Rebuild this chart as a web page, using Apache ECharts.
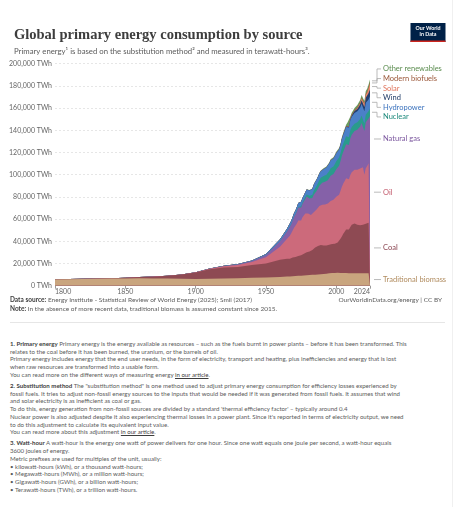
<!DOCTYPE html>
<html lang="en">
<head>
<meta charset="UTF-8">
<title>Global primary energy consumption by source</title>
<script src="https://cdn.jsdelivr.net/npm/echarts@6/dist/echarts.min.js"></script>
<style>
    html, body {
        margin: 0;
        padding: 0;
        background: #fff;
    }
    body {
        width: 458px;
        height: 507px;
        overflow: hidden;
        position: relative;
        font-family: Lato, "Noto Sans", sans-serif;
    }
    #chart {
        position: absolute;
        left: 0;
        top: 0;
        width: 458px;
        height: 320px;
    }
    .src {
        position: absolute;
        font-size: 6.5px;
        line-height: 8px;
        color: #5b5b5b;
        white-space: nowrap;
    }
    .src b { color: #3d3d3d; }
    #rule {
        position: absolute;
        left: 10px;
        width: 435px;
        top: 322px;
        height: 0;
        border-top: 1px solid #e6e6e6;
    }
    #edge {
        position: absolute;
        left: 452px;
        top: 0;
        width: 1px;
        height: 507px;
        background: #f0f0f0;
    }
    #notes {
        position: absolute;
        left: 10px;
        top: 340px;
        font-size: 6.1px;
        line-height: 7.7px;
        color: #5b5b5b;
        white-space: nowrap;
    }
    #notes p { margin: 0 0 3.5px 0; }
    #notes b { color: #3d3d3d; }
    #notes u { color: #3d3d3d; }
</style>
</head>
<body>
<div id="chart"></div>
<div class="src" style="left:10px;top:296px"><b>Data source:</b> Energy Institute - Statistical Review of World Energy (2025); Smil (2017)</div>
<div class="src" style="right:16px;top:296px">OurWorldinData.org/energy | CC BY</div>
<div class="src" style="left:10px;top:305px"><b>Note:</b> In the absence of more recent data, traditional biomass is assumed constant since 2015.</div>
<div id="rule"></div>
<div id="edge"></div>
<div id="notes">
<p><b>1. Primary energy</b> Primary energy is the energy available as resources – such as the fuels burnt in power plants – before it has been transformed. This<br>relates to the coal before it has been burned, the uranium, or the barrels of oil.<br>Primary energy includes energy that the end user needs, in the form of electricity, transport and heating, plus inefficiencies and energy that is lost<br>when raw resources are transformed into a usable form.<br>You can read more on the different ways of measuring energy <u>in our article</u>.</p>
<p><b>2. Substitution method</b> The "substitution method" is one method used to adjust primary energy consumption for efficiency losses experienced by<br>fossil fuels. It tries to adjust non-fossil energy sources to the inputs that would be needed if it was generated from fossil fuels. It assumes that wind<br>and solar electricity is as inefficient as coal or gas.<br>To do this, energy generation from non-fossil sources are divided by a standard 'thermal efficiency factor' – typically around 0.4<br>Nuclear power is also adjusted despite it also experiencing thermal losses in a power plant. Since it's reported in terms of electricity output, we need<br>to do this adjustment to calculate its equivalent input value.<br>You can read more about this adjustment <u>in our article</u>.</p>
<p><b>3. Watt-hour</b> A watt-hour is the energy one watt of power delivers for one hour. Since one watt equals one joule per second, a watt-hour equals<br>3600 joules of energy.<br>Metric prefixes are used for multiples of the unit, usually:<br>• kilowatt-hours (kWh), or a thousand watt-hours;<br>• Megawatt-hours (MWh), or a million watt-hours;<br>• Gigawatt-hours (GWh), or a billion watt-hours;<br>• Terawatt-hours (TWh), or a trillion watt-hours.</p>
</div>
<script>
    // years: Smil decadal until 1960, Energy Institute annual from 1965
    var years = [1800, 1810, 1820, 1830, 1840, 1850, 1860, 1870, 1880, 1890, 1900, 1910, 1920, 1930, 1940, 1950, 1960,
        1965, 1966, 1967, 1968, 1969, 1970, 1971, 1972, 1973, 1974,
        1975, 1976, 1977, 1978, 1979, 1980, 1981, 1982, 1983, 1984,
        1985, 1986, 1987, 1988, 1989, 1990, 1991, 1992, 1993, 1994,
        1995, 1996, 1997, 1998, 1999, 2000, 2001, 2002, 2003, 2004,
        2005, 2006, 2007, 2008, 2009, 2010, 2011, 2012, 2013, 2014,
        2015, 2016, 2017, 2018, 2019, 2020, 2021, 2022, 2023, 2024];

    var xTicks = [1800, 1850, 1900, 1950, 2000, 2024];

    // TWh, substitution method
    var biomass = [5556, 5830, 6110, 6250, 6390, 6530, 6670, 6530, 6390, 6250, 6110, 6250, 6530, 6810, 7080, 7500, 7920,
        8190, 8260, 8330, 8400, 8470, 8610, 8690, 8780, 8860, 8950,
        9030, 9120, 9200, 9290, 9370, 9440, 9550, 9650, 9760, 9860,
        9970, 10080, 10190, 10300, 10410, 10560, 10650, 10750, 10850, 10950,
        11110, 11220, 11330, 11440, 11550, 11670, 11630, 11590, 11550, 11510,
        11480, 11440, 11400, 11360, 11320, 11280, 11250, 11210, 11170, 11140,
        11111, 11111, 11111, 11111, 11111, 11111, 11111, 11111, 11111, 11111];

    var coal = [97, 128, 153, 264, 356, 569, 1061, 1642, 2542, 3856, 5728, 8656, 9833, 10125, 11586, 12603, 15442,
        16110, 16360, 16060, 16360, 16830, 17110, 17080, 17330, 17920, 18000,
        18310, 19080, 19640, 20000, 20860, 21110, 21280, 21670, 22390, 23450,
        24360, 24810, 25530, 26000, 26250, 25950, 25560, 25420, 25450, 25610,
        25830, 26220, 26280, 26000, 26220, 27080, 27220, 28280, 30690, 32920,
        35280, 37250, 39170, 39830, 39310, 41640, 43720, 44110, 44860, 44670,
        43720, 42890, 43280, 44030, 43780, 42110, 44700, 45060, 45640, 45860];

    var oil = [0, 0, 0, 0, 0, 0, 0, 6, 33, 89, 181, 383, 1111, 1722, 2694, 5444, 11800,
        17940, 19310, 20670, 22420, 24330, 26440, 27890, 29860, 32060, 31560,
        31420, 33360, 34470, 35670, 36110, 34580, 33420, 32440, 32310, 32860,
        32920, 33780, 34440, 35470, 36030, 36500, 36580, 37000, 36890, 37500,
        38170, 38940, 39860, 40080, 41000, 41390, 41670, 42110, 43060, 44780,
        45280, 45690, 46250, 45920, 45220, 46920, 47310, 47860, 48390, 48720,
        49670, 50420, 51110, 51530, 51720, 46640, 49940, 51720, 53610, 54560];

    var gas = [0, 0, 0, 0, 0, 0, 0, 0, 0, 0, 64, 180, 300, 600, 900, 2092, 4800,
        6500, 7030, 7560, 8220, 9000, 9860, 10500, 11060, 11560, 11720,
        11780, 12330, 12670, 13190, 13970, 14170, 14330, 14330, 14610, 15810,
        16420, 16610, 17500, 18330, 19170, 19750, 20220, 20390, 20810, 20920,
        21640, 22750, 22670, 23080, 23780, 24750, 25140, 26000, 26780, 27890,
        28670, 29440, 30560, 31500, 30830, 33030, 33810, 34610, 34970, 35250,
        36080, 36860, 37920, 39860, 40360, 39580, 41390, 40140, 40250, 41280];

    var nuclear = [0, 0, 0, 0, 0, 0, 0, 0, 0, 0, 0, 0, 0, 0, 0, 0, 0,
        70, 100, 120, 150, 180, 220, 310, 420, 560, 730,
        1000, 1160, 1400, 1660, 1740, 1980, 2350, 2560, 2900, 3490,
        4160, 4460, 4810, 5220, 5310, 5560, 5800, 5850, 6060, 6180,
        6480, 6700, 6640, 6800, 7070, 7170, 7320, 7410, 7210, 7490,
        7480, 7540, 7340, 7280, 7140, 7250, 6930, 6430, 6450, 6550,
        6600, 6670, 6690, 6820, 7030, 6750, 6970, 6630, 6750, 6900];

    var hydro = [0, 0, 0, 0, 0, 0, 0, 0, 0, 0, 30, 100, 180, 330, 540, 940, 1880,
        2570, 2720, 2790, 2920, 3080, 3250, 3380, 3530, 3610, 3940,
        4000, 4060, 4170, 4470, 4720, 4810, 4890, 5030, 5220, 5390,
        5530, 5610, 5690, 5860, 5860, 6000, 6170, 6190, 6500, 6580,
        6890, 7000, 7110, 7190, 7220, 7360, 7150, 7250, 7240, 7640,
        7860, 8120, 8210, 8560, 8600, 9030, 9160, 9530, 9790, 10030,
        9950, 10260, 10300, 10560, 10600, 10880, 10670, 10720, 10440, 10980];

    var wind = [0, 0, 0, 0, 0, 0, 0, 0, 0, 0, 0, 0, 0, 0, 0, 0, 0,
        0, 0, 0, 0, 0, 0, 0, 0, 0, 0,
        0, 0, 0, 0, 0, 0, 0, 0, 0, 0,
        0, 1, 2, 3, 5, 11, 13, 13, 16, 20,
        24, 27, 33, 44, 59, 87, 107, 143, 173, 230,
        281, 355, 455, 585, 733, 900, 1140, 1370, 1650, 1820,
        2130, 2440, 2870, 3200, 3570, 3990, 4600, 5200, 5740, 6130];

    var solar = [0, 0, 0, 0, 0, 0, 0, 0, 0, 0, 0, 0, 0, 0, 0, 0, 0,
        0, 0, 0, 0, 0, 0, 0, 0, 0, 0,
        0, 0, 0, 0, 0, 0, 0, 0, 0, 0,
        0, 0, 0, 0, 0, 0, 0, 0, 0, 0,
        1, 1, 1, 2, 2, 3, 4, 5, 6, 7,
        11, 15, 20, 33, 55, 90, 170, 260, 360, 500,
        660, 840, 1110, 1480, 1770, 2140, 2560, 3240, 4040, 5220];

    var biofuels = [0, 0, 0, 0, 0, 0, 0, 0, 0, 0, 0, 0, 0, 0, 0, 0, 0,
        0, 0, 0, 0, 0, 0, 0, 0, 0, 0,
        0, 0, 0, 0, 0, 25, 35, 50, 60, 70,
        80, 85, 90, 95, 100, 110, 115, 120, 120, 125,
        130, 135, 140, 140, 140, 135, 145, 165, 195, 225,
        260, 320, 400, 510, 560, 640, 650, 650, 700, 760,
        780, 800, 840, 920, 990, 930, 1000, 1090, 1200, 1270];

    var otherRenew = [0, 0, 0, 0, 0, 0, 0, 0, 0, 0, 0, 0, 0, 0, 0, 0, 0,
        60, 65, 70, 75, 80, 90, 100, 110, 120, 135,
        150, 160, 175, 190, 210, 230, 260, 290, 330, 380,
        420, 440, 470, 500, 560, 610, 650, 700, 730, 770,
        800, 830, 870, 900, 920, 940, 950, 1010, 1070, 1130,
        1170, 1220, 1300, 1360, 1440, 1560, 1640, 1750, 1840, 1940,
        2010, 2080, 2170, 2240, 2320, 2370, 2440, 2470, 2490, 2500];

    // bottom to top
    var sources = [
        {name: 'Traditional biomass', data: biomass, fill: '#C9A57E', text: '#B08B5E'},
        {name: 'Coal', data: coal, fill: '#8E4A53', text: '#8A4450'},
        {name: 'Oil', data: oil, fill: '#CC6A7B', text: '#C45C6E'},
        {name: 'Natural gas', data: gas, fill: '#8561A8', text: '#7B569E'},
        {name: 'Nuclear', data: nuclear, fill: '#2A9B8C', text: '#1E8A7C'},
        {name: 'Hydropower', data: hydro, fill: '#4B80C8', text: '#3B72BD'},
        {name: 'Wind', data: wind, fill: '#22406E', text: '#1E3A66'},
        {name: 'Solar', data: solar, fill: '#E98A6E', text: '#E0735A'},
        {name: 'Modern biofuels', data: biofuels, fill: '#A3603F', text: '#9A5638'},
        {name: 'Other renewables', data: otherRenew, fill: '#6A9B5E', text: '#5A8C4E'}
    ];

    // running totals so each area can be drawn down to zero
    var running = years.map(function () { return 0; });
    var cum = sources.map(function (s) {
        running = running.map(function (v, j) { return v + s.data[j]; });
        return running.slice();
    });

    var series = [];
    for (var k = sources.length - 1; k >= 0; k--) {
        series.push({
            name: sources[k].name,
            type: 'line',
            data: years.map(function (y, j) { return [y, cum[k][j]]; }),
            symbol: 'none',
            silent: true,
            lineStyle: {width: 0},
            itemStyle: {color: sources[k].fill},
            areaStyle: {color: sources[k].fill, opacity: 1},
            animation: false
        });
    }

    var chart = echarts.init(document.getElementById('chart'));
    chart.setOption({
        animation: false,
        title: [{
            text: 'Global primary energy consumption by source',
            left: 9,
            top: 23,
            textStyle: {fontFamily: 'Liberation Serif', fontWeight: 'bold', fontSize: 14.5, color: '#3d3d3d'}
        }, {
            text: 'Primary energy¹ is based on the substitution method² and measured in terawatt-hours³.',
            left: 9,
            top: 42,
            textStyle: {fontFamily: 'Lato', fontWeight: 'normal', fontSize: 7.75, color: '#5b5b5b'}
        }],
        grid: {left: 55, right: 88, top: 63.7, bottom: 34.3, outerBoundsMode: 'none'},
        xAxis: {
            type: 'value',
            min: 1800,
            max: 2024,
            axisLine: {show: false},
            axisTick: {show: true, customValues: xTicks, length: 3, lineStyle: {color: '#999'}},
            axisLabel: {
                customValues: xTicks,
                fontFamily: 'Lato',
                fontSize: 7,
                color: '#666',
                margin: 3,
                alignMinLabel: 'left',
                alignMaxLabel: 'right',
                formatter: function (v) { return String(v); }
            },
            splitLine: {show: false}
        },
        yAxis: {
            type: 'value',
            min: 0,
            max: 200000,
            interval: 20000,
            axisLine: {show: false},
            axisTick: {show: false},
            axisLabel: {
                fontFamily: 'Lato',
                fontSize: 7,
                color: '#666',
                margin: 3,
                formatter: function (v) { return v.toLocaleString('en-US') + ' TWh'; }
            },
            splitLine: {lineStyle: {color: '#dcdcdc', type: [2, 2], width: 0.7}}
        },
        series: series
    });

    // right-hand labels, spread apart where they would collide
    var last = years.length - 1;
    var plotRight = chart.convertToPixel({gridIndex: 0}, [years[last], 0])[0];
    var items = sources.map(function (s, i) {
        var mid = (i ? cum[i - 1][last] : 0) + s.data[last] / 2;
        return {s: s, target: chart.convertToPixel({gridIndex: 0}, [years[last], mid])[1]};
    });
    items.sort(function (a, b) { return a.target - b.target; });

    var gap = 9.6;
    var groups = items.map(function (it) { return {members: [it], y: it.target}; });
    var merged = true;
    while (merged) {
        merged = false;
        for (var g = 0; g < groups.length - 1; g++) {
            var a = groups[g], b = groups[g + 1];
            if (b.y - (a.y + (a.members.length - 1) * gap) < gap) {
                var members = a.members.concat(b.members);
                var mean = members.reduce(function (t, m) { return t + m.target; }, 0) / members.length;
                groups.splice(g, 2, {members: members, y: mean - (members.length - 1) * gap / 2});
                merged = true;
                break;
            }
        }
    }

    var graphics = [];
    groups.forEach(function (grp) {
        grp.members.forEach(function (m, n) {
            var ly = grp.y + n * gap;
            var pts = Math.abs(ly - m.target) < 1
                ? [[plotRight + 4, ly], [plotRight + 11, ly]]
                : [[plotRight + 2, m.target], [plotRight + 7, m.target], [plotRight + 7, ly], [plotRight + 11, ly]];
            graphics.push({
                type: 'polyline',
                silent: true,
                shape: {points: pts},
                style: {stroke: '#aaa', lineWidth: 0.8, fill: null}
            });
            graphics.push({
                type: 'text',
                silent: true,
                x: plotRight + 13,
                y: ly,
                style: {
                    text: m.s.name,
                    fill: m.s.text,
                    fontFamily: 'Lato',
                    fontSize: 7.5,
                    align: 'left',
                    verticalAlign: 'middle'
                }
            });
        });
    });

    // Our World in Data logo
    graphics.push({
        type: 'group',
        x: 410.5,
        y: 23,
        silent: true,
        children: [
            {type: 'rect', shape: {x: 0, y: 0, width: 35, height: 19}, style: {fill: '#002147'}},
            {type: 'rect', shape: {x: 0, y: 17.6, width: 35, height: 1.4}, style: {fill: '#CE261E'}},
            {
                type: 'text', x: 17.5, y: 8.7,
                style: {
                    text: 'Our World\nin Data', fill: '#fff', fontFamily: 'Lato', fontWeight: 'bold',
                    fontSize: 5.3, lineHeight: 6, align: 'center', verticalAlign: 'middle'
                }
            }
        ]
    });

    chart.setOption({graphic: graphics});
</script>
</body>
</html>
